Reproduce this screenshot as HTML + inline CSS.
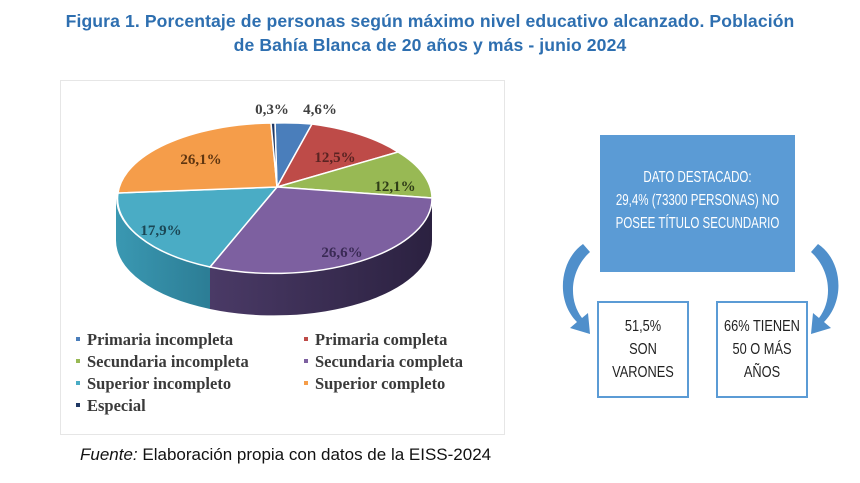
<!DOCTYPE html>
<html><head><meta charset="utf-8"><style>
body{margin:0;width:860px;height:483px;background:#fff;overflow:hidden;position:relative;font-family:"Liberation Sans",sans-serif}
.t{position:absolute;left:0;width:860px;text-align:center;color:#2e6fb0;font-weight:bold;font-size:17.6px;line-height:24px;letter-spacing:0.1px}
.box{position:absolute;box-sizing:border-box;font-family:"Liberation Sans",sans-serif;font-size:16px;line-height:23px}
.box .in{position:absolute;left:-60px;right:-60px;text-align:center;transform:scaleX(0.8);white-space:nowrap}
</style></head><body>
<div class="t" style="top:9px">Figura 1. Porcentaje de personas según máximo nivel educativo alcanzado. Población</div>
<div class="t" style="top:33px">de Bahía Blanca de 20 años y más - junio 2024</div>
<div style="position:absolute;left:60px;top:80px;width:445px;height:355px;border:1px solid #e6e6e6;box-sizing:border-box"></div>
<svg style="position:absolute;left:0;top:0" width="860" height="483">
<defs>
<linearGradient id="gc" x1="0" x2="1"><stop offset="0" stop-color="#3a98b2"/><stop offset="1" stop-color="#2c7d95"/></linearGradient>
<linearGradient id="gp" x1="0" x2="1"><stop offset="0" stop-color="#4a3a66"/><stop offset="1" stop-color="#2b2140"/></linearGradient>
</defs>
<path d="M116,198 A158,75 0 0 0 210,267 L210,309 A158,75 0 0 1 116,240 Z" fill="url(#gc)"/>
<path d="M210,267 A158,75 0 0 0 432,198 L432,240 A158,75 0 0 1 210,309 Z" fill="url(#gp)"/>
<g stroke="#fff" stroke-width="1.5">
<path d="M277,187 L275,123 A158,75 0 0 1 312,124 Z" fill="#4a7ebb"/>
<path d="M277,187 L312,124 A158,75 0 0 1 398,152 Z" fill="#be4b48"/>
<path d="M277,187 L398,152 A158,75 0 0 1 432,198 Z" fill="#98b954"/>
<path d="M277,187 L432,198 A158,75 0 0 1 210,267 Z" fill="#7d60a0"/>
<path d="M277,187 L210,267 A158,75 0 0 1 118,193 Z" fill="#4aacc5"/>
<path d="M277,187 L118,193 A158,75 0 0 1 271,123 Z" fill="#f59d4a"/>
<path d="M277,187 L271,123 A158,75 0 0 1 275,123 Z" fill="#1f3864"/>
</g>
<g font-family="Liberation Serif,serif" font-weight="bold" font-size="15" fill="#404040" text-anchor="middle">
<text x="272" y="114">0,3%</text><text x="320" y="114">4,6%</text>
<text x="335" y="162" fill="#5a2322">12,5%</text>
<text x="395" y="191" fill="#2f3d17">12,1%</text>
<text x="201" y="164" fill="#5e3510">26,1%</text>
<text x="161" y="235" fill="#1b4755">17,9%</text>
<text x="342" y="257" fill="#3a2a55">26,6%</text>
</g>
<g font-family="Liberation Serif,serif" font-weight="bold" font-size="16.5" fill="#3a3a3a">
<rect x="76" y="337" width="4" height="4" fill="#4a7ebb"/><text x="87" y="345">Primaria incompleta</text>
<rect x="304" y="337" width="4" height="4" fill="#be4b48"/><text x="315" y="345">Primaria completa</text>
<rect x="76" y="359" width="4" height="4" fill="#98b954"/><text x="87" y="367">Secundaria incompleta</text>
<rect x="304" y="359" width="4" height="4" fill="#7d60a0"/><text x="315" y="367">Secundaria completa</text>
<rect x="76" y="381" width="4" height="4" fill="#4aacc5"/><text x="87" y="389">Superior incompleto</text>
<rect x="304" y="381" width="4" height="4" fill="#f59d4a"/><text x="315" y="389">Superior completo</text>
<rect x="76" y="403" width="4" height="4" fill="#1f3864"/><text x="87" y="411">Especial</text>
</g>
<path d="M583,244 C560,260 555,300 577,322 L570,328 L590,334 L588,313 L582,318 C568,300 570,270 590,252 Z" fill="#4f8fcb"/>
<path d="M818,244 C842,260 846,300 824,322 L831,328 L811,334 L813,313 L819,318 C833,300 831,270 811,252 Z" fill="#4f8fcb"/>
</svg>
<div class="box" style="left:600px;top:135px;width:195px;height:137px;background:#5b9bd5;color:#fff"><div class="in" style="top:31px;transform:scaleX(0.72)">DATO DESTACADO:<br>29,4% (73300 PERSONAS) NO<br>POSEE TÍTULO SECUNDARIO</div></div>
<div class="box" style="left:597px;top:301px;width:92px;height:97px;border:2px solid #5b9bd5;color:#222"><div class="in" style="top:12px">51,5%<br>SON<br>VARONES</div></div>
<div class="box" style="left:716px;top:301px;width:92px;height:97px;border:2px solid #5b9bd5;color:#222"><div class="in" style="top:12px">66% TIENEN<br>50 O MÁS<br>AÑOS</div></div>
<div style="position:absolute;left:80px;top:445px;font-size:17px;color:#111"><i>Fuente:</i> Elaboración propia con datos de la EISS-2024</div>
</body></html>
